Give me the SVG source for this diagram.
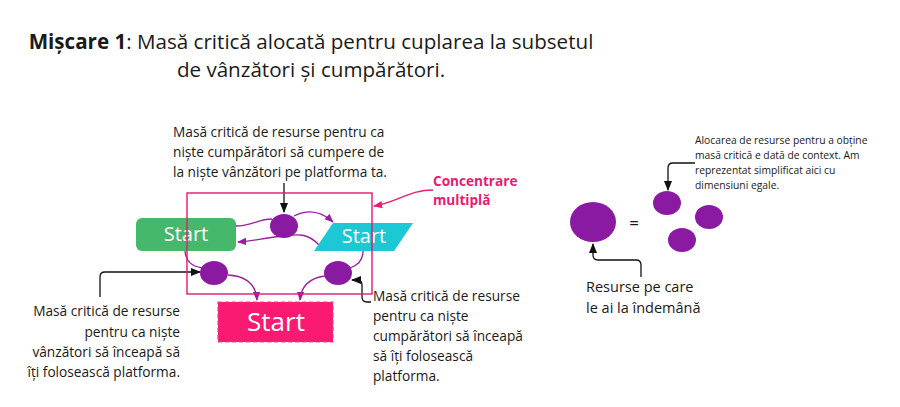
<svg xmlns="http://www.w3.org/2000/svg" width="900" height="407" viewBox="0 0 900 407">
<style>
text{font-family:"Open Sans","Noto Sans",sans-serif;fill:#1a1a1a}
.lbl{font-size:13.7px}
.sm{font-size:10.3px}
.st{fill:#fff;font-size:20px}
.res{fill:#8b1aa3}
.pc{fill:none;stroke:#9a1f9f;stroke-width:1.3}
.bk{fill:none;stroke:#111;stroke-width:1.3}
</style>
<defs>
<marker id="ap" viewBox="0 0 10 10" refX="9" refY="5" markerWidth="7" markerHeight="7" orient="auto"><path d="M0,1 L10,5 L0,9 z" fill="#9a1f9f"/></marker>
<marker id="ab" viewBox="0 0 10 10" refX="9" refY="5" markerWidth="8" markerHeight="8" orient="auto"><path d="M0,1 L10,5 L0,9 z" fill="#111"/></marker>
<marker id="ak" viewBox="0 0 10 10" refX="9" refY="5" markerWidth="7" markerHeight="7" orient="auto"><path d="M0,1 L10,5 L0,9 z" fill="#ea1a72"/></marker>
</defs>
<rect width="900" height="407" fill="#fff"/>
<g id="title">
<text x="311" y="49" text-anchor="middle" font-size="20.6"><tspan font-weight="bold">Mișcare 1</tspan>: Masă critică alocată pentru cuplarea la subsetul</text>
<text x="311" y="77" text-anchor="middle" font-size="20.6">de vânzători și cumpărători.</text>
</g>
<g id="connectors">
<path class="pc" d="M236,226 C252,226 258,219 272,219"/>
<path class="pc" d="M294,216 C310,208 322,212 333,222" marker-end="url(#ap)"/>
<path class="pc" d="M319,245 C308,233 298,234 284,236 C264,238 252,241 238,242" marker-end="url(#ap)"/>
<path class="pc" d="M185,251 C186,262 192,266 202,268"/>
<path class="pc" d="M228,275 C245,276 256,284 257,300" marker-end="url(#ap)"/>
<path class="pc" d="M363,251 C363,262 356,266 350,268"/>
<path class="pc" d="M325,276 C310,278 301,286 300,300" marker-end="url(#ap)"/>
<path class="bk" d="M284,183 L284,212" marker-end="url(#ab)"/>
<path class="bk" d="M100,297 L100,277 Q100,272 105,272 L200,272" marker-end="url(#ab)"/>
<path class="bk" d="M371,302 L367,302 Q362,302 362,297 L362,285 Q362,280 357,280 L352,280" marker-end="url(#ab)"/>
<path d="M433,190 C410,190 397,202 374,206" fill="none" stroke="#ea1a72" stroke-width="1.3" marker-end="url(#ak)"/>
<path class="bk" d="M695,163 L673,163 Q668,163 668,168 L668,190" marker-end="url(#ab)"/>
<path class="bk" d="M641,277 L641,265 Q641,260 636,260 L598,260 Q593,260 593,255 L593,244" marker-end="url(#ab)"/>
</g>
<g id="green-start">
<rect x="136" y="218" width="100" height="33" rx="6" fill="#45b86c"/>
<text class="st" x="186" y="241" text-anchor="middle">Start</text>
</g>
<g id="cyan-start">
<path d="M333,223 L413,223 L394,251 L314,251 Z" fill="#1cc8d3"/>
<text class="st" x="364" y="243" text-anchor="middle">Start</text>
</g>
<g id="pink-start">
<rect x="218" y="302" width="115" height="40" fill="#fa1a72" stroke="#f0407f" stroke-dasharray="4 3" stroke-width="1.2"/>
<text x="276" y="331" text-anchor="middle" font-size="26" style="fill:#fff">Start</text>
</g>
<g id="frame">
<rect x="187" y="193" width="185" height="101" fill="none" stroke="#e21a70" stroke-width="1.4"/>
</g>
<g id="res-top"><ellipse class="res" cx="284" cy="226" rx="14" ry="12"/></g>
<g id="res-left"><ellipse class="res" cx="214" cy="273" rx="14" ry="12"/></g>
<g id="res-right"><ellipse class="res" cx="338" cy="273" rx="14" ry="12"/></g>
<g id="label-top">
<text class="lbl" x="173" y="137">Masă critică de resurse pentru ca</text>
<text class="lbl" x="173" y="157">niște cumpărători să cumpere de</text>
<text class="lbl" x="173" y="177">la niște vânzători pe platforma ta.</text>
</g>
<g id="label-left">
<text class="lbl" x="180" y="316" text-anchor="end">Masă critică de resurse</text>
<text class="lbl" x="180" y="337" text-anchor="end">pentru ca niște</text>
<text class="lbl" x="180" y="357" text-anchor="end">vânzători să înceapă să</text>
<text class="lbl" x="180" y="377" text-anchor="end">îți folosească platforma.</text>
</g>
<g id="label-right">
<text class="lbl" x="373" y="301">Masă critică de resurse</text>
<text class="lbl" x="373" y="321">pentru ca niște</text>
<text class="lbl" x="373" y="341">cumpărători să înceapă</text>
<text class="lbl" x="373" y="361">să îți folosească</text>
<text class="lbl" x="373" y="381">platforma.</text>
</g>
<g id="label-concentrare">
<text x="433" y="186" font-size="13.6" font-weight="bold" style="fill:#ea1a72">Concentrare</text>
<text x="433" y="205" font-size="13.6" font-weight="bold" style="fill:#ea1a72">multiplă</text>
</g>
<g id="big-resource"><ellipse class="res" cx="593" cy="222" rx="23" ry="20"/></g>
<g id="equals"><text x="634" y="229" text-anchor="middle" font-size="17">=</text></g>
<g id="small-res-1"><ellipse class="res" cx="667" cy="203" rx="14" ry="12"/></g>
<g id="small-res-2"><ellipse class="res" cx="709" cy="217" rx="14" ry="12"/></g>
<g id="small-res-3"><ellipse class="res" cx="682" cy="240" rx="14" ry="12"/></g>
<g id="label-alocare">
<text class="sm" x="695" y="144">Alocarea de resurse pentru a obține</text>
<text class="sm" x="695" y="159">masă critică e dată de context. Am</text>
<text class="sm" x="695" y="174">reprezentat simplificat aici cu</text>
<text class="sm" x="695" y="189">dimensiuni egale.</text>
</g>
<g id="label-resurse">
<text x="586" y="292" font-size="14.5">Resurse pe care</text>
<text x="586" y="313" font-size="14.5">le ai la îndemână</text>
</g>
</svg>
